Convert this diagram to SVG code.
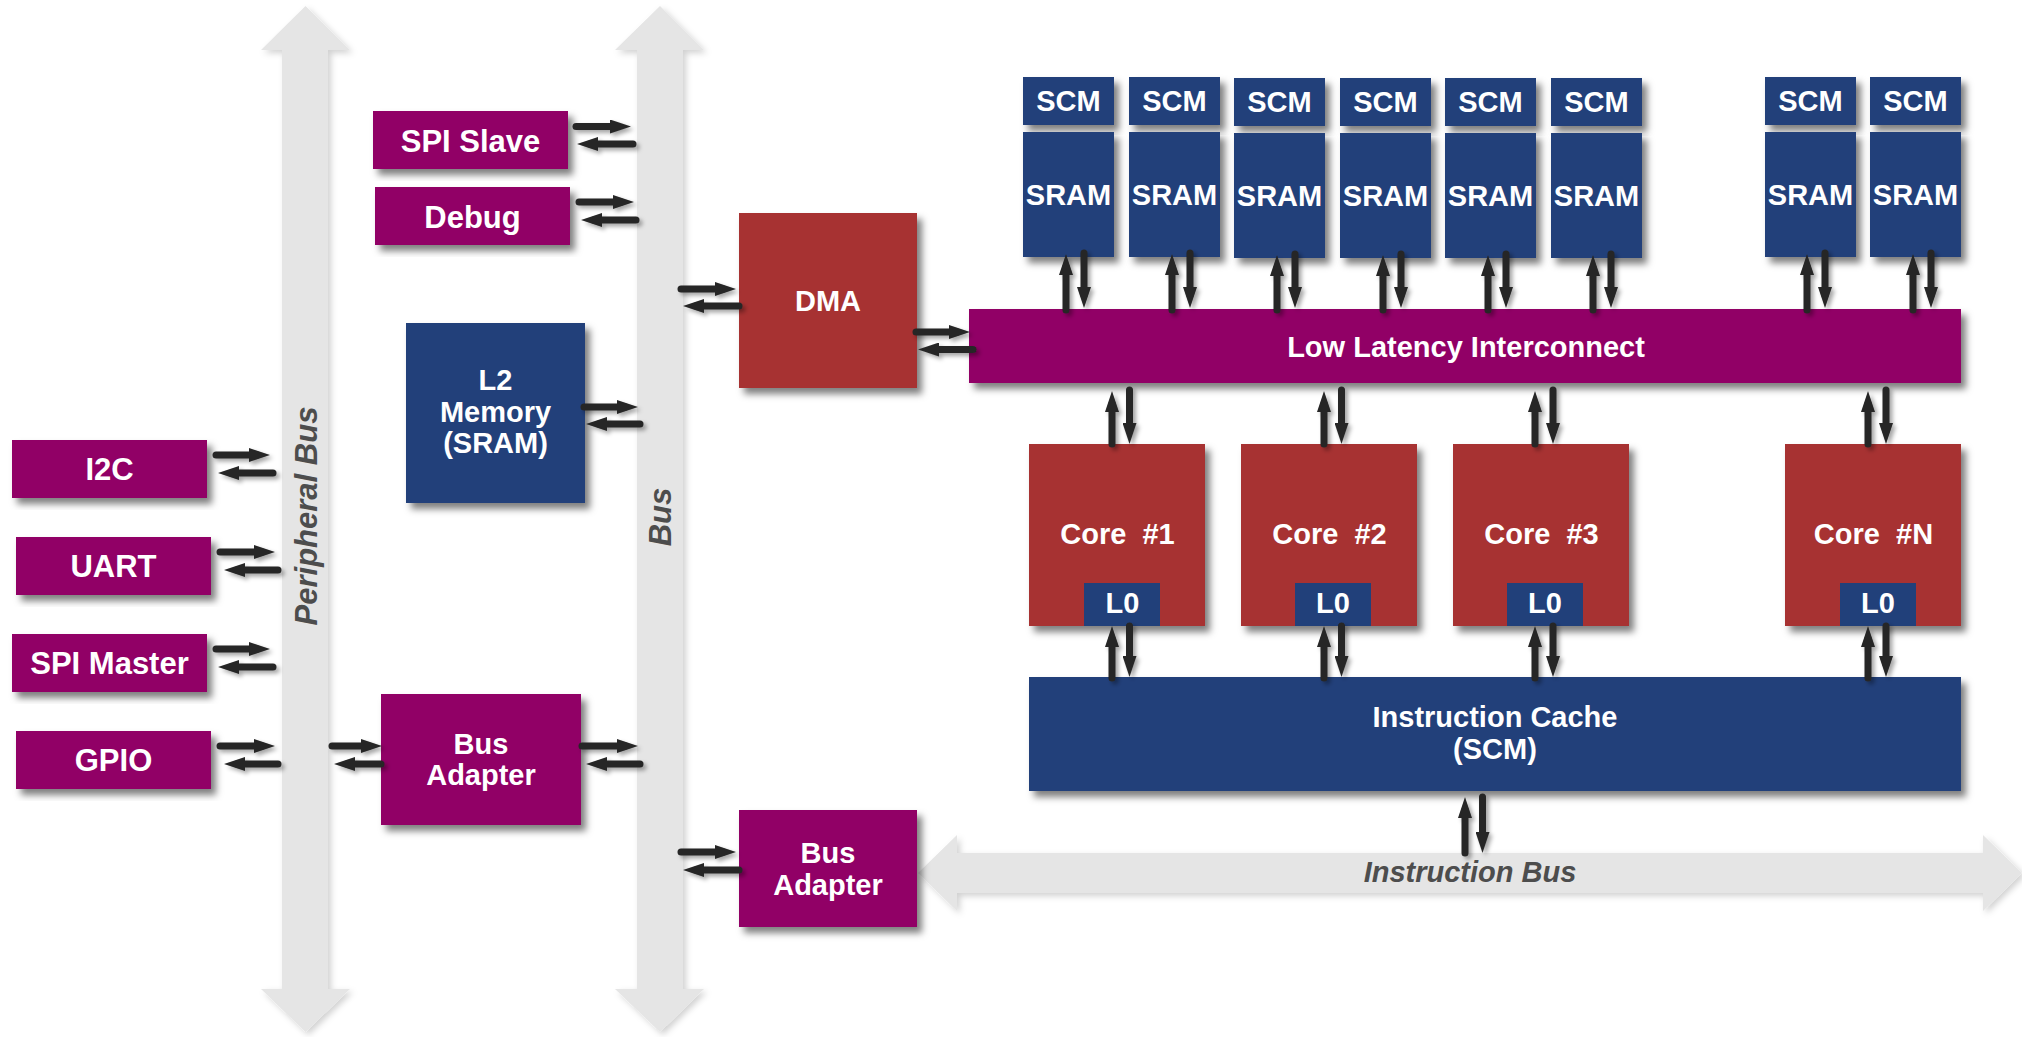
<svg xmlns="http://www.w3.org/2000/svg" width="2022" height="1037" viewBox="0 0 2022 1037">
<defs>
<filter id="sh" x="-10%" y="-10%" width="130%" height="130%">
<feDropShadow dx="5" dy="6" stdDeviation="3.5" flood-color="#000" flood-opacity="0.5"/>
</filter>
<filter id="ash" x="-20%" y="-20%" width="150%" height="150%">
<feDropShadow dx="3" dy="3" stdDeviation="2" flood-color="#000" flood-opacity="0.35"/>
</filter>
<filter id="bsh" x="-10%" y="-5%" width="130%" height="115%">
<feDropShadow dx="3" dy="3" stdDeviation="3" flood-color="#000" flood-opacity="0.18"/>
</filter>
<marker id="ah" markerUnits="userSpaceOnUse" markerWidth="21" markerHeight="14" refX="8" refY="7" orient="auto">
<path d="M0,0 L21,7 L0,14 z" fill="#262626"/>
</marker>
<style>
.mag{fill:#910466;filter:url(#sh)}
.blu{fill:#21407a;filter:url(#sh)}
.red{fill:#a73030;filter:url(#sh)}
.l0{fill:#21407a}
.bus{fill:#e5e5e5;filter:url(#bsh)}
text{font-family:"Liberation Sans",Arial,sans-serif;font-weight:bold;fill:#fff;text-anchor:middle}
.t31{font-size:31px}
.t29{font-size:29px}
.bl{font-size:31px;font-style:italic;fill:#4d4d4d}
.ib{font-size:29px;font-style:italic;fill:#4d4d4d}
.c line{stroke:#262626;stroke-width:7;stroke-linecap:round;marker-end:url(#ah)}
</style>
</defs>
<rect width="2022" height="1037" fill="#fff"/>

<g id="peripheral-bus">
<polygon class="bus" points="305.5,6 350,50 328,50 328,989 350,989 305.5,1032 261,989 282,989 282,50 261,50"/>
<text class="bl" transform="translate(317,516) rotate(-90)">Peripheral Bus</text>
</g>
<g id="bus">
<polygon class="bus" points="660,6 704,50 683,50 683,989 704,989 660,1032 615,989 637,989 637,50 615,50"/>
<text class="bl" transform="translate(671,517) rotate(-90)">Bus</text>
</g>
<g id="instruction-bus">
<polygon class="bus" points="918,873 957,835 957,853 1983,853 1983,835 2022,873 1983,911 1983,893 957,893 957,911"/>
<text class="ib" x="1470" y="882">Instruction Bus</text>
</g>

<g id="spi-slave"><rect class="mag" x="373" y="111" width="195" height="58"/><text class="t31" x="470.5" y="151.5">SPI Slave</text></g>
<g id="debug"><rect class="mag" x="375" y="187" width="195" height="58"/><text class="t31" x="472.5" y="228">Debug</text></g>
<g id="i2c"><rect class="mag" x="12" y="440" width="195" height="58"/><text class="t31" x="109.5" y="480">I2C</text></g>
<g id="uart"><rect class="mag" x="16" y="537" width="195" height="58"/><text class="t31" x="113.5" y="577">UART</text></g>
<g id="spi-master"><rect class="mag" x="12" y="634" width="195" height="58"/><text class="t31" x="109.5" y="674">SPI Master</text></g>
<g id="gpio"><rect class="mag" x="16" y="731" width="195" height="58"/><text class="t31" x="113.5" y="771">GPIO</text></g>
<g id="l2-memory"><rect class="blu" x="406" y="323" width="179" height="180"/>
<text class="t29" x="495.5" y="390">L2</text><text class="t29" x="495.5" y="421.5">Memory</text><text class="t29" x="495.5" y="453">(SRAM)</text></g>
<g id="bus-adapter-1"><rect class="mag" x="381" y="694" width="200" height="131"/>
<text class="t29" x="481" y="753.5">Bus</text><text class="t29" x="481" y="785">Adapter</text></g>
<g id="dma"><rect class="red" x="739" y="213" width="178" height="175"/><text class="t29" x="828" y="311">DMA</text></g>
<g id="bus-adapter-2"><rect class="mag" x="739" y="810" width="178" height="117"/>
<text class="t29" x="828" y="862.5">Bus</text><text class="t29" x="828" y="894.5">Adapter</text></g>

<g id="low-latency-interconnect"><rect class="mag" x="969" y="309" width="992" height="74"/><text class="t29" x="1466" y="356.5">Low Latency Interconnect</text></g>
<g id="instruction-cache"><rect class="blu" x="1029" y="677" width="932" height="114"/>
<text class="t29" x="1495" y="726.5">Instruction Cache</text><text class="t29" x="1495" y="759">(SCM)</text></g>

<g id="bank-1"><rect class="blu" x="1023" y="77" width="91" height="48"/><text class="t29" x="1068.5" y="111">SCM</text><rect class="blu" x="1023" y="132" width="91" height="125"/><text class="t29" x="1068.5" y="205">SRAM</text></g>
<g id="bank-2"><rect class="blu" x="1129" y="77" width="91" height="48"/><text class="t29" x="1174.5" y="111">SCM</text><rect class="blu" x="1129" y="132" width="91" height="125"/><text class="t29" x="1174.5" y="205">SRAM</text></g>
<g id="bank-3"><rect class="blu" x="1234" y="78" width="91" height="48"/><text class="t29" x="1279.5" y="112">SCM</text><rect class="blu" x="1234" y="133" width="91" height="125"/><text class="t29" x="1279.5" y="206">SRAM</text></g>
<g id="bank-4"><rect class="blu" x="1340" y="78" width="91" height="48"/><text class="t29" x="1385.5" y="112">SCM</text><rect class="blu" x="1340" y="133" width="91" height="125"/><text class="t29" x="1385.5" y="206">SRAM</text></g>
<g id="bank-5"><rect class="blu" x="1445" y="78" width="91" height="48"/><text class="t29" x="1490.5" y="112">SCM</text><rect class="blu" x="1445" y="133" width="91" height="125"/><text class="t29" x="1490.5" y="206">SRAM</text></g>
<g id="bank-6"><rect class="blu" x="1551" y="78" width="91" height="48"/><text class="t29" x="1596.5" y="112">SCM</text><rect class="blu" x="1551" y="133" width="91" height="125"/><text class="t29" x="1596.5" y="206">SRAM</text></g>
<g id="bank-7"><rect class="blu" x="1765" y="77" width="91" height="48"/><text class="t29" x="1810.5" y="111">SCM</text><rect class="blu" x="1765" y="132" width="91" height="125"/><text class="t29" x="1810.5" y="205">SRAM</text></g>
<g id="bank-8"><rect class="blu" x="1870" y="77" width="91" height="48"/><text class="t29" x="1915.5" y="111">SCM</text><rect class="blu" x="1870" y="132" width="91" height="125"/><text class="t29" x="1915.5" y="205">SRAM</text></g>

<g id="core-1"><rect class="red" x="1029" y="444" width="176" height="182"/><text class="t29" x="1117.5" y="543.5" xml:space="preserve">Core  #1</text><rect class="l0" x="1084" y="583" width="76" height="43"/><text class="t29" x="1122.5" y="613">L0</text></g>
<g id="core-2"><rect class="red" x="1241" y="444" width="176" height="182"/><text class="t29" x="1329.5" y="543.5" xml:space="preserve">Core  #2</text><rect class="l0" x="1295" y="583" width="76" height="43"/><text class="t29" x="1333" y="613">L0</text></g>
<g id="core-3"><rect class="red" x="1453" y="444" width="176" height="182"/><text class="t29" x="1541.5" y="543.5" xml:space="preserve">Core  #3</text><rect class="l0" x="1507" y="583" width="76" height="43"/><text class="t29" x="1545" y="613">L0</text></g>
<g id="core-n"><rect class="red" x="1785" y="444" width="176" height="182"/><text class="t29" x="1873.5" y="543.5" xml:space="preserve">Core  #N</text><rect class="l0" x="1840" y="583" width="76" height="43"/><text class="t29" x="1878" y="613">L0</text></g>

<g id="connectors" class="c" filter="url(#ash)">
<line x1="576" y1="126.5" x2="618" y2="126.5"/><line x1="633" y1="144" x2="590" y2="144"/>
<line x1="579" y1="202" x2="621" y2="202"/><line x1="636" y1="220" x2="594" y2="220"/>
<line x1="584" y1="407" x2="625" y2="407"/><line x1="640" y1="424" x2="599" y2="424"/>
<line x1="681" y1="289" x2="723" y2="289"/><line x1="739" y1="306" x2="696" y2="306"/>
<line x1="916" y1="332" x2="957" y2="332"/><line x1="973" y1="349.5" x2="931" y2="349.5"/>
<line x1="582" y1="746" x2="625" y2="746"/><line x1="640" y1="764" x2="599" y2="764"/>
<line x1="681" y1="852" x2="723" y2="852"/><line x1="739" y1="870" x2="696" y2="870"/>
<line x1="216" y1="455" x2="257" y2="455"/><line x1="273" y1="473" x2="231" y2="473"/>
<line x1="220" y1="552" x2="262" y2="552"/><line x1="278" y1="570" x2="237" y2="570"/>
<line x1="216" y1="649" x2="257" y2="649"/><line x1="273" y1="667" x2="231" y2="667"/>
<line x1="220" y1="746" x2="262" y2="746"/><line x1="278" y1="764" x2="237" y2="764"/>
<line x1="332" y1="746" x2="369" y2="746"/><line x1="381" y1="764" x2="347" y2="764"/>

<line x1="1066" y1="310" x2="1066" y2="267"/><line x1="1084" y1="253" x2="1084" y2="295"/>
<line x1="1172" y1="310" x2="1172" y2="267"/><line x1="1190" y1="253" x2="1190" y2="295"/>
<line x1="1277" y1="310" x2="1277" y2="268"/><line x1="1295" y1="254" x2="1295" y2="295"/>
<line x1="1383" y1="310" x2="1383" y2="268"/><line x1="1401" y1="254" x2="1401" y2="295"/>
<line x1="1488" y1="310" x2="1488" y2="268"/><line x1="1506" y1="254" x2="1506" y2="295"/>
<line x1="1593" y1="310" x2="1593" y2="268"/><line x1="1611" y1="254" x2="1611" y2="295"/>
<line x1="1807" y1="310" x2="1807" y2="267"/><line x1="1825" y1="253" x2="1825" y2="295"/>
<line x1="1913" y1="310" x2="1913" y2="267"/><line x1="1931" y1="253" x2="1931" y2="295"/>

<line x1="1112" y1="444" x2="1112" y2="404"/><line x1="1129.5" y1="390" x2="1129.5" y2="431"/>
<line x1="1324" y1="444" x2="1324" y2="404"/><line x1="1341.5" y1="390" x2="1341.5" y2="431"/>
<line x1="1535" y1="444" x2="1535" y2="404"/><line x1="1553" y1="390" x2="1553" y2="431"/>
<line x1="1868" y1="444" x2="1868" y2="404"/><line x1="1886" y1="390" x2="1886" y2="431"/>

<line x1="1112" y1="678" x2="1112" y2="639"/><line x1="1129.5" y1="626" x2="1129.5" y2="664"/>
<line x1="1324" y1="678" x2="1324" y2="639"/><line x1="1341.5" y1="626" x2="1341.5" y2="664"/>
<line x1="1535" y1="678" x2="1535" y2="639"/><line x1="1553" y1="626" x2="1553" y2="664"/>
<line x1="1868" y1="678" x2="1868" y2="639"/><line x1="1886" y1="626" x2="1886" y2="664"/>

<line x1="1465" y1="853" x2="1465" y2="810"/><line x1="1482.5" y1="797" x2="1482.5" y2="840"/>
</g>
</svg>
